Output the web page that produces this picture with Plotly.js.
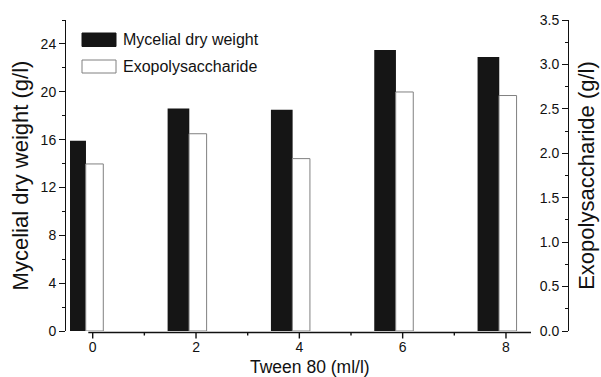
<!DOCTYPE html>
<html>
<head>
<meta charset="utf-8">
<script src="https://cdn.plot.ly/plotly-3.0.1.min.js"></script>
<style>
  html, body { margin: 0; padding: 0; background: #ffffff; }
  #chart { width: 601px; height: 377px; }
</style>
</head>
<body>
<div id="chart"></div>
<script>
// ---- data ----
const tweenConc = [0, 2, 4, 6, 8];                 // Tween 80 (ml/l)
const mycelialDryWeight = [15.9, 18.6, 18.5, 23.5, 22.9]; // g/l (left axis)
const exopolysaccharide = [1.88, 2.22, 1.94, 2.69, 2.65]; // g/l (right axis)
const seriesNames = ['Mycelial dry weight', 'Exopolysaccharide'];
const xTitle = 'Tween 80 (ml/l)';
const yTitle = 'Mycelial dry weight (g/l)';
const y2Title = 'Exopolysaccharide (g/l)';

// ---- layout geometry (pixels) ----
const W = 601, H = 377;
const L = 65, R = 568, T = 20, B = 331;
const PW = R - L, PH = B - T;
const PX0 = 92.7, PXU = 51.66;            // pixel of x=0, pixels per x unit
const px2x = p => (p - PX0) / PXU;
const px2paperX = p => (p - L) / PW;
const px2paperY = p => (B - p) / PH;
const fontFam = '"Liberation Sans", Arial, Helvetica, sans-serif';
const ink = '#111111';

// minor x ticks halfway between the labelled concentrations
const minorX = tweenConc.slice(1).map((v, i) => (v + tweenConc[i]) / 2);

const traces = [
  {
    type: 'bar', name: seriesNames[0], x: tweenConc, y: mycelialDryWeight,
    xaxis: 'x', yaxis: 'y', offset: -0.55, width: 0.42,
    marker: { color: '#151515', line: { width: 0 } },
    showlegend: false, hoverinfo: 'x+y'
  },
  {
    type: 'bar', name: seriesNames[1], x: tweenConc, y: exopolysaccharide,
    xaxis: 'x', yaxis: 'y2', offset: -0.135, width: 0.34,
    marker: { color: '#ffffff', line: { color: '#808080', width: 1 } },
    showlegend: false, hoverinfo: 'x+y'
  },
  // invisible helper so the right-hand title axis is drawn
  {
    type: 'scatter', mode: 'none', x: tweenConc, y: exopolysaccharide,
    xaxis: 'x', yaxis: 'y3', showlegend: false, hoverinfo: 'skip'
  }
];

// custom legend (large swatches like the original)
const legX0 = 82, legX1 = 116, legTextX = 121;
const legRows = [
  { y0: 33, y1: 46.5, fill: '#151515', line: '#151515' },
  { y0: 60, y1: 73, fill: '#ffffff', line: '#808080' }
];
const shapes = legRows.map(r => ({
  type: 'rect', xref: 'paper', yref: 'paper',
  x0: px2paperX(legX0), x1: px2paperX(legX1),
  y0: px2paperY(r.y1), y1: px2paperY(r.y0),
  fillcolor: r.fill, line: { color: r.line, width: 1 }
}));
// bottom axis line (shorter than the plot area, as in the original)
const axisY = 332.5;
shapes.push({
  type: 'line', xref: 'paper', yref: 'paper',
  x0: px2paperX(88.3), x1: px2paperX(531),
  y0: px2paperY(axisY), y1: px2paperY(axisY),
  line: { color: ink, width: 1.4 }, layer: 'above'
});
// bottom axis tick marks at the concentrations (major) and halfway (minor)
tweenConc.forEach(v => shapes.push({
  type: 'line', xref: 'x', yref: 'paper', x0: v, x1: v,
  y0: px2paperY(axisY), y1: px2paperY(axisY + 6),
  line: { color: ink, width: 1.4 }, layer: 'above'
}));
minorX.forEach(v => shapes.push({
  type: 'line', xref: 'x', yref: 'paper', x0: v, x1: v,
  y0: px2paperY(axisY), y1: px2paperY(axisY + 3),
  line: { color: ink, width: 1.4 }, layer: 'above'
}));

const annotations = legRows.map((r, i) => ({
  xref: 'paper', yref: 'paper', x: px2paperX(legTextX), y: px2paperY((r.y0 + r.y1) / 2),
  xanchor: 'left', yanchor: 'middle', showarrow: false,
  text: seriesNames[i], font: { family: fontFam, size: 16, color: ink }
}));
annotations.push({
  xref: 'paper', yref: 'paper', x: px2paperX(309.6), y: px2paperY(367),
  xanchor: 'center', yanchor: 'middle', showarrow: false, borderpad: 0,
  text: xTitle, font: { family: fontFam, size: 17.5, color: ink }
});

const layout = {
  width: W, height: H,
  margin: { l: L, r: W - R, t: T, b: H - B, pad: 0 },
  paper_bgcolor: '#ffffff', plot_bgcolor: 'rgba(0,0,0,0)',
  barmode: 'overlay',
  showlegend: false,
  font: { family: fontFam, size: 14, color: ink },
  xaxis: {
    domain: [px2paperX(70), 1],
    range: [px2x(70), px2x(R)],
    anchor: 'y',
    showline: false, showgrid: false, zeroline: false,
    tickmode: 'array', tickvals: tweenConc, ticktext: tweenConc.map(String),
    ticks: 'outside', ticklen: 3, tickwidth: 1, tickcolor: 'rgba(0,0,0,0)',
    tickfont: { family: fontFam, size: 14, color: ink },
    fixedrange: true
  },
  yaxis: {
    range: [0, 26], anchor: 'free', position: 0, side: 'left',
    showline: true, linecolor: ink, linewidth: 1,
    showgrid: false, zeroline: false,
    tickmode: 'linear', tick0: 0, dtick: 4,
    ticks: 'outside', ticklen: 6, tickcolor: ink,
    minor: { dtick: 2, ticks: 'outside', ticklen: 3, tickcolor: ink },
    tickfont: { family: fontFam, size: 14, color: ink },
    title: { text: yTitle, font: { family: fontFam, size: 22, color: ink }, standoff: 4 },
    fixedrange: true
  },
  // right axis: line, inward ticks and labels on the plot side
  yaxis2: {
    range: [0, 3.5], overlaying: 'y', anchor: 'free', position: 1, side: 'left',
    showline: true, linecolor: ink, linewidth: 1,
    showgrid: false, zeroline: false,
    tickmode: 'linear', tick0: 0, dtick: 0.5, tickformat: '.1f',
    ticks: 'outside', ticklen: 6, tickcolor: ink,
    minor: { dtick: 0.25, ticks: 'outside', ticklen: 3, tickcolor: ink },
    tickfont: { family: fontFam, size: 14, color: ink },
    fixedrange: true
  },
  // right axis title only
  yaxis3: {
    range: [0, 3.5], overlaying: 'y', anchor: 'free', position: 1, side: 'right',
    showline: false, showgrid: false, zeroline: false,
    ticks: '', showticklabels: false,
    title: { text: y2Title, font: { family: fontFam, size: 22, color: ink }, standoff: 10 },
    fixedrange: true
  },
  shapes: shapes,
  annotations: annotations
};

Plotly.newPlot('chart', traces, layout, { displayModeBar: false, staticPlot: true });
</script>
</body>
</html>
